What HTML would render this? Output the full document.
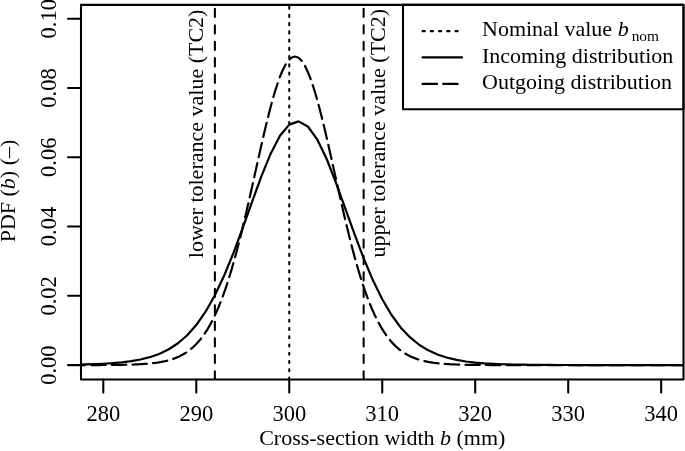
<!DOCTYPE html>
<html><head><meta charset="utf-8"><style>
html,body{margin:0;padding:0;background:#fff;}
svg{display:block;will-change:transform;}
text{font-family:"Liberation Serif",serif;fill:#000;}
</style></head><body>
<svg width="685" height="451" viewBox="0 0 685 451">
<rect width="685" height="451" fill="#fff"/>
<defs><clipPath id="pr"><rect x="81.0" y="4.9" width="602.5" height="374.6"/></clipPath></defs>
<g fill="none" stroke="#000" stroke-width="2.06" stroke-linecap="round" stroke-linejoin="round">
<g clip-path="url(#pr)">
<polyline points="10.32,365.06 19.62,365.04 28.92,365.02 38.21,364.99 47.51,364.94 56.81,364.87 66.11,364.78 75.41,364.64 84.70,364.44 94.00,364.16 103.30,363.75 112.60,363.17 121.90,362.34 131.19,361.16 140.49,359.50 149.79,357.17 159.09,353.93 168.39,349.48 177.68,343.46 186.98,335.46 196.28,325.01 205.58,311.72 214.88,295.27 224.17,275.57 233.47,252.87 242.77,227.87 252.07,201.80 261.37,176.37 270.66,153.66 279.96,135.78 289.26,124.61 298.56,121.39 307.86,126.49 317.15,139.33 326.45,158.48 335.75,182.01 345.05,207.76 354.35,233.72 363.64,258.28 372.94,280.34 382.24,299.31 391.54,315.02 400.84,327.63 410.13,337.48 419.43,345.00 428.73,350.62 438.03,354.76 447.33,357.77 456.62,359.93 465.92,361.47 475.22,362.56 484.52,363.32 493.82,363.86 503.11,364.23 512.41,364.49 521.71,364.67 531.01,364.80 540.31,364.89 549.60,364.95 558.90,364.99 568.20,365.02 577.50,365.05 586.80,365.06 596.09,365.07 605.39,365.08 614.69,365.09 623.99,365.09 633.29,365.09 642.58,365.09 651.88,365.10 661.18,365.10 670.48,365.10 679.78,365.10 689.07,365.10 698.37,365.10 707.67,365.10 716.97,365.10 726.27,365.10 735.56,365.10 744.86,365.10 754.16,365.10" stroke-width="2.2"/>
<polyline points="10.32,365.10 11.25,365.10 12.18,365.10 13.11,365.10 14.04,365.10 14.97,365.10 15.90,365.10 16.83,365.10 17.76,365.10 18.69,365.10 19.62,365.10 20.55,365.10 21.48,365.10 22.41,365.10 23.34,365.10 24.27,365.10 25.20,365.10 26.13,365.10 27.06,365.10 27.99,365.10 28.92,365.10 29.85,365.10 30.78,365.10 31.71,365.10 32.64,365.10 33.57,365.10 34.49,365.10 35.42,365.10 36.35,365.10 37.28,365.10 38.21,365.10 39.14,365.10 40.07,365.10 41.00,365.10 41.93,365.10 42.86,365.10 43.79,365.10 44.72,365.10 45.65,365.10 46.58,365.10 47.51,365.10 48.44,365.10 49.37,365.10 50.30,365.10 51.23,365.10 52.16,365.10 53.09,365.10 54.02,365.10 54.95,365.10 55.88,365.10 56.81,365.10 57.74,365.10 58.67,365.10 59.60,365.09 60.53,365.09 61.46,365.09 62.39,365.09 63.32,365.09 64.25,365.09 65.18,365.09 66.11,365.09 67.04,365.09 67.97,365.09 68.90,365.09 69.83,365.09 70.76,365.09 71.69,365.09 72.62,365.09 73.55,365.09 74.48,365.09 75.41,365.09 76.34,365.08 77.27,365.08 78.20,365.08 79.13,365.08 80.06,365.08 80.98,365.08 81.91,365.08 82.84,365.08 83.77,365.08 84.70,365.07 85.63,365.07 86.56,365.07 87.49,365.07 88.42,365.07 89.35,365.06 90.28,365.06 91.21,365.06 92.14,365.06 93.07,365.05 94.00,365.05 94.93,365.05 95.86,365.05 96.79,365.04 97.72,365.04 98.65,365.04 99.58,365.03 100.51,365.03 101.44,365.02 102.37,365.02 103.30,365.01 104.23,365.01 105.16,365.00 106.09,365.00 107.02,364.99 107.95,364.98 108.88,364.98 109.81,364.97 110.74,364.96 111.67,364.95 112.60,364.94 113.53,364.93 114.46,364.92 115.39,364.91 116.32,364.90 117.25,364.89 118.18,364.87 119.11,364.86 120.04,364.85 120.97,364.83 121.90,364.82 122.83,364.80 123.76,364.78 124.69,364.76 125.62,364.74 126.55,364.72 127.47,364.70 128.40,364.67 129.33,364.65 130.26,364.62 131.19,364.59 132.12,364.56 133.05,364.53 133.98,364.49 134.91,364.46 135.84,364.42 136.77,364.38 137.70,364.33 138.63,364.29 139.56,364.24 140.49,364.19 141.42,364.14 142.35,364.08 143.28,364.02 144.21,363.96 145.14,363.89 146.07,363.82 147.00,363.75 147.93,363.67 148.86,363.59 149.79,363.50 150.72,363.41 151.65,363.31 152.58,363.21 153.51,363.10 154.44,362.99 155.37,362.87 156.30,362.74 157.23,362.61 158.16,362.47 159.09,362.32 160.02,362.17 160.95,362.00 161.88,361.83 162.81,361.65 163.74,361.46 164.67,361.26 165.60,361.05 166.53,360.82 167.46,360.59 168.39,360.35 169.32,360.09 170.25,359.82 171.18,359.53 172.11,359.24 173.04,358.92 173.96,358.60 174.89,358.25 175.82,357.89 176.75,357.51 177.68,357.11 178.61,356.70 179.54,356.26 180.47,355.81 181.40,355.33 182.33,354.83 183.26,354.31 184.19,353.76 185.12,353.19 186.05,352.59 186.98,351.97 187.91,351.32 188.84,350.64 189.77,349.93 190.70,349.19 191.63,348.41 192.56,347.61 193.49,346.77 194.42,345.89 195.35,344.98 196.28,344.03 197.21,343.05 198.14,342.02 199.07,340.95 200.00,339.84 200.93,338.69 201.86,337.49 202.79,336.25 203.72,334.96 204.65,333.62 205.58,332.23 206.51,330.79 207.44,329.30 208.37,327.76 209.30,326.16 210.23,324.51 211.16,322.80 212.09,321.03 213.02,319.21 213.95,317.33 214.88,315.38 215.81,313.38 216.74,311.31 217.67,309.18 218.60,306.99 219.53,304.73 220.45,302.41 221.38,300.02 222.31,297.57 223.24,295.05 224.17,292.46 225.10,289.81 226.03,287.09 226.96,284.30 227.89,281.44 228.82,278.52 229.75,275.53 230.68,272.47 231.61,269.35 232.54,266.16 233.47,262.91 234.40,259.60 235.33,256.22 236.26,252.78 237.19,249.28 238.12,245.73 239.05,242.11 239.98,238.44 240.91,234.72 241.84,230.95 242.77,227.12 243.70,223.26 244.63,219.34 245.56,215.39 246.49,211.40 247.42,207.37 248.35,203.31 249.28,199.22 250.21,195.11 251.14,190.98 252.07,186.82 253.00,182.66 253.93,178.48 254.86,174.30 255.79,170.12 256.72,165.94 257.65,161.76 258.58,157.60 259.51,153.46 260.44,149.34 261.37,145.25 262.30,141.18 263.23,137.16 264.16,133.18 265.09,129.24 266.02,125.36 266.94,121.53 267.87,117.77 268.80,114.08 269.73,110.45 270.66,106.91 271.59,103.45 272.52,100.08 273.45,96.80 274.38,93.62 275.31,90.55 276.24,87.58 277.17,84.72 278.10,81.98 279.03,79.37 279.96,76.87 280.89,74.51 281.82,72.28 282.75,70.19 283.68,68.23 284.61,66.42 285.54,64.76 286.47,63.25 287.40,61.88 288.33,60.67 289.26,59.62 290.19,58.72 291.12,57.99 292.05,57.41 292.98,57.00 293.91,56.75 294.84,56.66 295.77,56.73 296.70,56.97 297.63,57.36 298.56,57.92 299.49,58.64 300.42,59.52 301.35,60.56 302.28,61.75 303.21,63.10 304.14,64.60 305.07,66.25 306.00,68.04 306.93,69.98 307.86,72.06 308.79,74.28 309.72,76.63 310.65,79.11 311.58,81.71 312.51,84.44 313.43,87.28 314.36,90.24 315.29,93.30 316.22,96.47 317.15,99.74 318.08,103.10 319.01,106.55 319.94,110.09 320.87,113.70 321.80,117.39 322.73,121.15 323.66,124.97 324.59,128.84 325.52,132.77 326.45,136.75 327.38,140.77 328.31,144.83 329.24,148.92 330.17,153.04 331.10,157.18 332.03,161.34 332.96,165.51 333.89,169.69 334.82,173.87 335.75,178.05 336.68,182.23 337.61,186.40 338.54,190.55 339.47,194.69 340.40,198.81 341.33,202.90 342.26,206.96 343.19,210.99 344.12,214.98 345.05,218.94 345.98,222.86 346.91,226.73 347.84,230.56 348.77,234.34 349.70,238.07 350.63,241.74 351.56,245.36 352.49,248.92 353.42,252.43 354.35,255.87 355.28,259.26 356.21,262.58 357.14,265.83 358.07,269.03 359.00,272.16 359.92,275.22 360.85,278.22 361.78,281.15 362.71,284.01 363.64,286.80 364.57,289.53 365.50,292.19 366.43,294.79 367.36,297.31 368.29,299.78 369.22,302.17 370.15,304.50 371.08,306.76 372.01,308.96 372.94,311.10 373.87,313.17 374.80,315.18 375.73,317.13 376.66,319.02 377.59,320.85 378.52,322.62 379.45,324.34 380.38,325.99 381.31,327.60 382.24,329.15 383.17,330.64 384.10,332.08 385.03,333.48 385.96,334.82 386.89,336.12 387.82,337.37 388.75,338.57 389.68,339.73 390.61,340.84 391.54,341.91 392.47,342.94 393.40,343.93 394.33,344.89 395.26,345.80 396.19,346.68 397.12,347.52 398.05,348.33 398.98,349.11 399.91,349.85 400.84,350.57 401.77,351.25 402.70,351.90 403.63,352.53 404.56,353.13 405.49,353.70 406.41,354.25 407.34,354.78 408.27,355.28 409.20,355.76 410.13,356.22 411.06,356.66 411.99,357.07 412.92,357.47 413.85,357.85 414.78,358.21 415.71,358.56 416.64,358.89 417.57,359.20 418.50,359.50 419.43,359.79 420.36,360.06 421.29,360.32 422.22,360.57 423.15,360.80 424.08,361.02 425.01,361.24 425.94,361.44 426.87,361.63 427.80,361.81 428.73,361.98 429.66,362.15 430.59,362.31 431.52,362.45 432.45,362.60 433.38,362.73 434.31,362.86 435.24,362.98 436.17,363.09 437.10,363.20 438.03,363.30 438.96,363.40 439.89,363.49 440.82,363.58 441.75,363.66 442.68,363.74 443.61,363.82 444.54,363.89 445.47,363.95 446.40,364.02 447.33,364.08 448.26,364.13 449.19,364.19 450.12,364.24 451.05,364.28 451.98,364.33 452.90,364.37 453.83,364.41 454.76,364.45 455.69,364.49 456.62,364.52 457.55,364.56 458.48,364.59 459.41,364.62 460.34,364.64 461.27,364.67 462.20,364.69 463.13,364.72 464.06,364.74 464.99,364.76 465.92,364.78 466.85,364.80 467.78,364.81 468.71,364.83 469.64,364.85 470.57,364.86 471.50,364.87 472.43,364.89 473.36,364.90 474.29,364.91 475.22,364.92 476.15,364.93 477.08,364.94 478.01,364.95 478.94,364.96 479.87,364.97 480.80,364.97 481.73,364.98 482.66,364.99 483.59,365.00 484.52,365.00 485.45,365.01 486.38,365.01 487.31,365.02 488.24,365.02 489.17,365.03 490.10,365.03 491.03,365.04 491.96,365.04 492.89,365.04 493.82,365.05 494.75,365.05 495.68,365.05 496.61,365.05 497.54,365.06 498.47,365.06 499.39,365.06 500.32,365.06 501.25,365.07 502.18,365.07 503.11,365.07 504.04,365.07 504.97,365.07 505.90,365.08 506.83,365.08 507.76,365.08 508.69,365.08 509.62,365.08 510.55,365.08 511.48,365.08 512.41,365.08 513.34,365.08 514.27,365.09 515.20,365.09 516.13,365.09 517.06,365.09 517.99,365.09 518.92,365.09 519.85,365.09 520.78,365.09 521.71,365.09 522.64,365.09 523.57,365.09 524.50,365.09 525.43,365.09 526.36,365.09 527.29,365.09 528.22,365.09 529.15,365.09 530.08,365.09 531.01,365.10 531.94,365.10 532.87,365.10 533.80,365.10 534.73,365.10 535.66,365.10 536.59,365.10 537.52,365.10 538.45,365.10 539.38,365.10 540.31,365.10 541.24,365.10 542.17,365.10 543.10,365.10 544.03,365.10 544.96,365.10 545.88,365.10 546.81,365.10 547.74,365.10 548.67,365.10 549.60,365.10 550.53,365.10 551.46,365.10 552.39,365.10 553.32,365.10 554.25,365.10 555.18,365.10 556.11,365.10 557.04,365.10 557.97,365.10 558.90,365.10 559.83,365.10 560.76,365.10 561.69,365.10 562.62,365.10 563.55,365.10 564.48,365.10 565.41,365.10 566.34,365.10 567.27,365.10 568.20,365.10 569.13,365.10 570.06,365.10 570.99,365.10 571.92,365.10 572.85,365.10 573.78,365.10 574.71,365.10 575.64,365.10 576.57,365.10 577.50,365.10 578.43,365.10 579.36,365.10 580.29,365.10 581.22,365.10 582.15,365.10 583.08,365.10 584.01,365.10 584.94,365.10 585.87,365.10 586.80,365.10 587.73,365.10 588.66,365.10 589.59,365.10 590.52,365.10 591.45,365.10 592.37,365.10 593.30,365.10 594.23,365.10 595.16,365.10 596.09,365.10 597.02,365.10 597.95,365.10 598.88,365.10 599.81,365.10 600.74,365.10 601.67,365.10 602.60,365.10 603.53,365.10 604.46,365.10 605.39,365.10 606.32,365.10 607.25,365.10 608.18,365.10 609.11,365.10 610.04,365.10 610.97,365.10 611.90,365.10 612.83,365.10 613.76,365.10 614.69,365.10 615.62,365.10 616.55,365.10 617.48,365.10 618.41,365.10 619.34,365.10 620.27,365.10 621.20,365.10 622.13,365.10 623.06,365.10 623.99,365.10 624.92,365.10 625.85,365.10 626.78,365.10 627.71,365.10 628.64,365.10 629.57,365.10 630.50,365.10 631.43,365.10 632.36,365.10 633.29,365.10 634.22,365.10 635.15,365.10 636.08,365.10 637.01,365.10 637.94,365.10 638.86,365.10 639.79,365.10 640.72,365.10 641.65,365.10 642.58,365.10 643.51,365.10 644.44,365.10 645.37,365.10 646.30,365.10 647.23,365.10 648.16,365.10 649.09,365.10 650.02,365.10 650.95,365.10 651.88,365.10 652.81,365.10 653.74,365.10 654.67,365.10 655.60,365.10 656.53,365.10 657.46,365.10 658.39,365.10 659.32,365.10 660.25,365.10 661.18,365.10 662.11,365.10 663.04,365.10 663.97,365.10 664.90,365.10 665.83,365.10 666.76,365.10 667.69,365.10 668.62,365.10 669.55,365.10 670.48,365.10 671.41,365.10 672.34,365.10 673.27,365.10 674.20,365.10 675.13,365.10 676.06,365.10 676.99,365.10 677.92,365.10 678.85,365.10 679.78,365.10 680.71,365.10 681.64,365.10 682.57,365.10 683.50,365.10 684.43,365.10 685.35,365.10 686.28,365.10 687.21,365.10 688.14,365.10 689.07,365.10 690.00,365.10 690.93,365.10 691.86,365.10 692.79,365.10 693.72,365.10 694.65,365.10 695.58,365.10 696.51,365.10 697.44,365.10 698.37,365.10 699.30,365.10 700.23,365.10 701.16,365.10 702.09,365.10 703.02,365.10 703.95,365.10 704.88,365.10 705.81,365.10 706.74,365.10 707.67,365.10 708.60,365.10 709.53,365.10 710.46,365.10 711.39,365.10 712.32,365.10 713.25,365.10 714.18,365.10 715.11,365.10 716.04,365.10 716.97,365.10 717.90,365.10 718.83,365.10 719.76,365.10 720.69,365.10 721.62,365.10 722.55,365.10 723.48,365.10 724.41,365.10 725.34,365.10 726.27,365.10 727.20,365.10 728.13,365.10 729.06,365.10 729.99,365.10 730.92,365.10 731.84,365.10 732.77,365.10 733.70,365.10 734.63,365.10 735.56,365.10 736.49,365.10 737.42,365.10 738.35,365.10 739.28,365.10 740.21,365.10 741.14,365.10 742.07,365.10 743.00,365.10 743.93,365.10 744.86,365.10 745.79,365.10 746.72,365.10 747.65,365.10 748.58,365.10 749.51,365.10 750.44,365.10 751.37,365.10 752.30,365.10 753.23,365.10 754.16,365.10 755.09,365.10 756.02,365.10 756.95,365.10 757.88,365.10 758.81,365.10 759.74,365.10 760.67,365.10 761.60,365.10 762.53,365.10 763.46,365.10" stroke-width="2.2" stroke-dasharray="14.420 6.180" stroke-dashoffset="1.4"/>
<line x1="214.88" y1="379.5" x2="214.88" y2="4.9" stroke-dasharray="8.240 8.240" />
<line x1="363.64" y1="379.5" x2="363.64" y2="4.9" stroke-dasharray="8.240 8.240" />
<line x1="289.26" y1="379.5" x2="289.26" y2="4.9" stroke-dasharray="2.060 6.180" />
</g>
<line x1="103.30" y1="379.5" x2="103.30" y2="392.6"/><line x1="196.28" y1="379.5" x2="196.28" y2="392.6"/><line x1="289.26" y1="379.5" x2="289.26" y2="392.6"/><line x1="382.24" y1="379.5" x2="382.24" y2="392.6"/><line x1="475.22" y1="379.5" x2="475.22" y2="392.6"/><line x1="568.20" y1="379.5" x2="568.20" y2="392.6"/><line x1="661.18" y1="379.5" x2="661.18" y2="392.6"/><line x1="68.0" y1="365.10" x2="81.0" y2="365.10"/><line x1="68.0" y1="295.82" x2="81.0" y2="295.82"/><line x1="68.0" y1="226.54" x2="81.0" y2="226.54"/><line x1="68.0" y1="157.26" x2="81.0" y2="157.26"/><line x1="68.0" y1="87.98" x2="81.0" y2="87.98"/><line x1="68.0" y1="18.70" x2="81.0" y2="18.70"/>
<g stroke-linecap="square">
<rect x="81.0" y="4.9" width="602.5" height="374.6"/>
<rect x="403.0" y="4.9" width="280.5" height="104.3"/>
</g>
<g stroke-width="2.2"><line x1="422.6" y1="31.2" x2="462.0" y2="31.2" stroke-dasharray="2.060 6.180"/>
<line x1="422.6" y1="57.45" x2="462.0" y2="57.45"/>
<line x1="422.6" y1="83.9" x2="462.0" y2="83.9" stroke-dasharray="14.420 6.180"/></g>
</g>
<g font-size="22.5"><text x="103.30" y="420.6" text-anchor="middle">280</text><text x="196.28" y="420.6" text-anchor="middle">290</text><text x="289.26" y="420.6" text-anchor="middle">300</text><text x="382.24" y="420.6" text-anchor="middle">310</text><text x="475.22" y="420.6" text-anchor="middle">320</text><text x="568.20" y="420.6" text-anchor="middle">330</text><text x="661.18" y="420.6" text-anchor="middle">340</text><text transform="translate(56.2,365.10) rotate(-90)" text-anchor="middle">0.00</text><text transform="translate(56.2,295.82) rotate(-90)" text-anchor="middle">0.02</text><text transform="translate(56.2,226.54) rotate(-90)" text-anchor="middle">0.04</text><text transform="translate(56.2,157.26) rotate(-90)" text-anchor="middle">0.06</text><text transform="translate(56.2,87.98) rotate(-90)" text-anchor="middle">0.08</text><text transform="translate(56.2,18.70) rotate(-90)" text-anchor="middle">0.10</text></g>
<g font-size="22">
<text x="382.3" y="445.2" text-anchor="middle">Cross-section width <tspan font-style="italic">b</tspan> (mm)</text>
<text transform="translate(15.0,191.0) rotate(-90)" text-anchor="middle">PDF (<tspan font-style="italic">b</tspan>) (–)</text>
<text transform="translate(203.3,258.2) rotate(-90)">lower tolerance value (TC2)</text>
<text transform="translate(384.6,257.5) rotate(-90)">upper tolerance value (TC2)</text>
</g>
<g font-size="22">
<text x="482.0" y="35.8">Nominal value <tspan font-style="italic">b</tspan><tspan font-size="15.40" dx="3" dy="5.1">nom</tspan></text>
<text x="482.0" y="62.5">Incoming distribution</text>
<text x="482.0" y="89.2">Outgoing distribution</text>
</g>
</svg>
</body></html>
